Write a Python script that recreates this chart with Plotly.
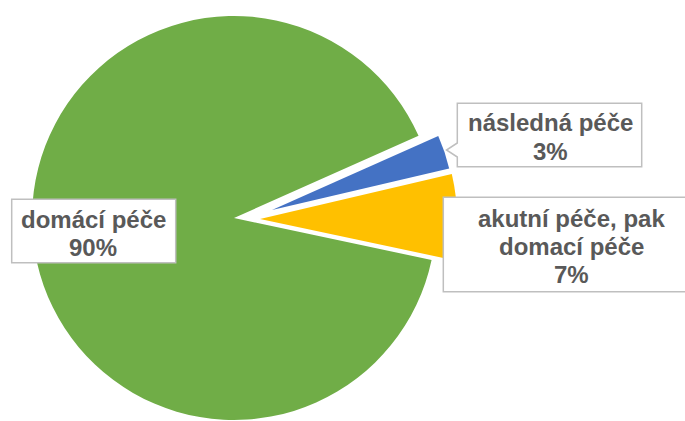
import plotly.graph_objects as go

W, H = 685, 421

# ---- data ----
labels = ["následná péče", "akutní péče, pak<br>domací péče", "domácí péče"]
values = [3, 7, 90]
colors = ["#4472C4", "#FFC000", "#70AD47"]

# ---- layout helpers (pixels -> paper) ----
def px(x):
    return x / W

def py(y):
    return 1 - y / H

# slice geometry (apex x, apex y, radius) in pixels, drawn order: green, yellow, blue
geom = {2: (234, 218, 202), 1: (260, 219, 197), 0: (272, 210, 182)}
draw_order = [2, 1, 0]

fig = go.Figure()
total = sum(values)
for i in draw_order:
    cx, cy, r = geom[i]
    cols = [colors[j] if j == i else "rgba(0,0,0,0)" for j in range(len(values))]
    fig.add_trace(go.Pie(
        values=values,
        labels=labels,
        sort=False,
        direction="clockwise",
        rotation=66,
        marker=dict(colors=cols, line=dict(width=0)),
        textinfo="none",
        hoverinfo="skip",
        showlegend=False,
        domain=dict(x=[px(cx - r), px(cx + r)], y=[py(cy + r), py(cy - r)]),
    ))

# label boxes (pixels)
border = "#BFBFBF"
shapes = []
# blue label box with callout notch
bx0, by0, bx1, by1 = 457.3, 103.3, 641.7, 166.7
path = (f"M {px(bx0)},{py(by0)} L {px(bx1)},{py(by0)} L {px(bx1)},{py(by1)} "
        f"L {px(bx0)},{py(by1)} L {px(bx0)},{py(157)} L {px(446.5)},{py(150)} "
        f"L {px(bx0)},{py(143)} Z")
shapes.append(dict(type="path", xref="paper", yref="paper", path=path,
                   fillcolor="white", line=dict(color=border, width=1.5), layer="above"))
# yellow label box (runs off right edge)
shapes.append(dict(type="rect", xref="paper", yref="paper",
                   x0=px(443.3), x1=px(700), y0=py(291.7), y1=py(197.3),
                   fillcolor="white", line=dict(color=border, width=1.5), layer="above"))
# green label box
shapes.append(dict(type="rect", xref="paper", yref="paper",
                   x0=px(11.7), x1=px(175.7), y0=py(262.7), y1=py(199.3),
                   fillcolor="white", line=dict(color=border, width=1.5), layer="above"))

# label text positions: (center x, first line middle y, line spacing)
text_pos = {0: (550, 122.5, 28.5), 1: (571, 219, 27.5), 2: (93, 219.5, 28)}

annotations = []
for i in range(len(values)):
    lines = labels[i].split("<br>") + [f"{values[i] / total * 100:.0f}%"]
    tx, ty, sp = text_pos[i]
    for k, line in enumerate(lines):
        annotations.append(dict(
            text=f"<b>{line}</b>", x=px(tx), y=py(ty + k * sp),
            xref="paper", yref="paper", xanchor="center", yanchor="middle",
            showarrow=False,
            font=dict(family="Liberation Sans, Arial, sans-serif", size=24, color="#595959"),
        ))

fig.update_layout(
    width=W, height=H,
    margin=dict(l=0, r=0, t=0, b=0),
    paper_bgcolor="white", plot_bgcolor="white",
    shapes=shapes, annotations=annotations,
)

fig.write_html(
    "out.html",
    config={"displayModeBar": False},
    post_script="document.body.style.margin='0px';document.body.style.overflow='hidden';",
)
